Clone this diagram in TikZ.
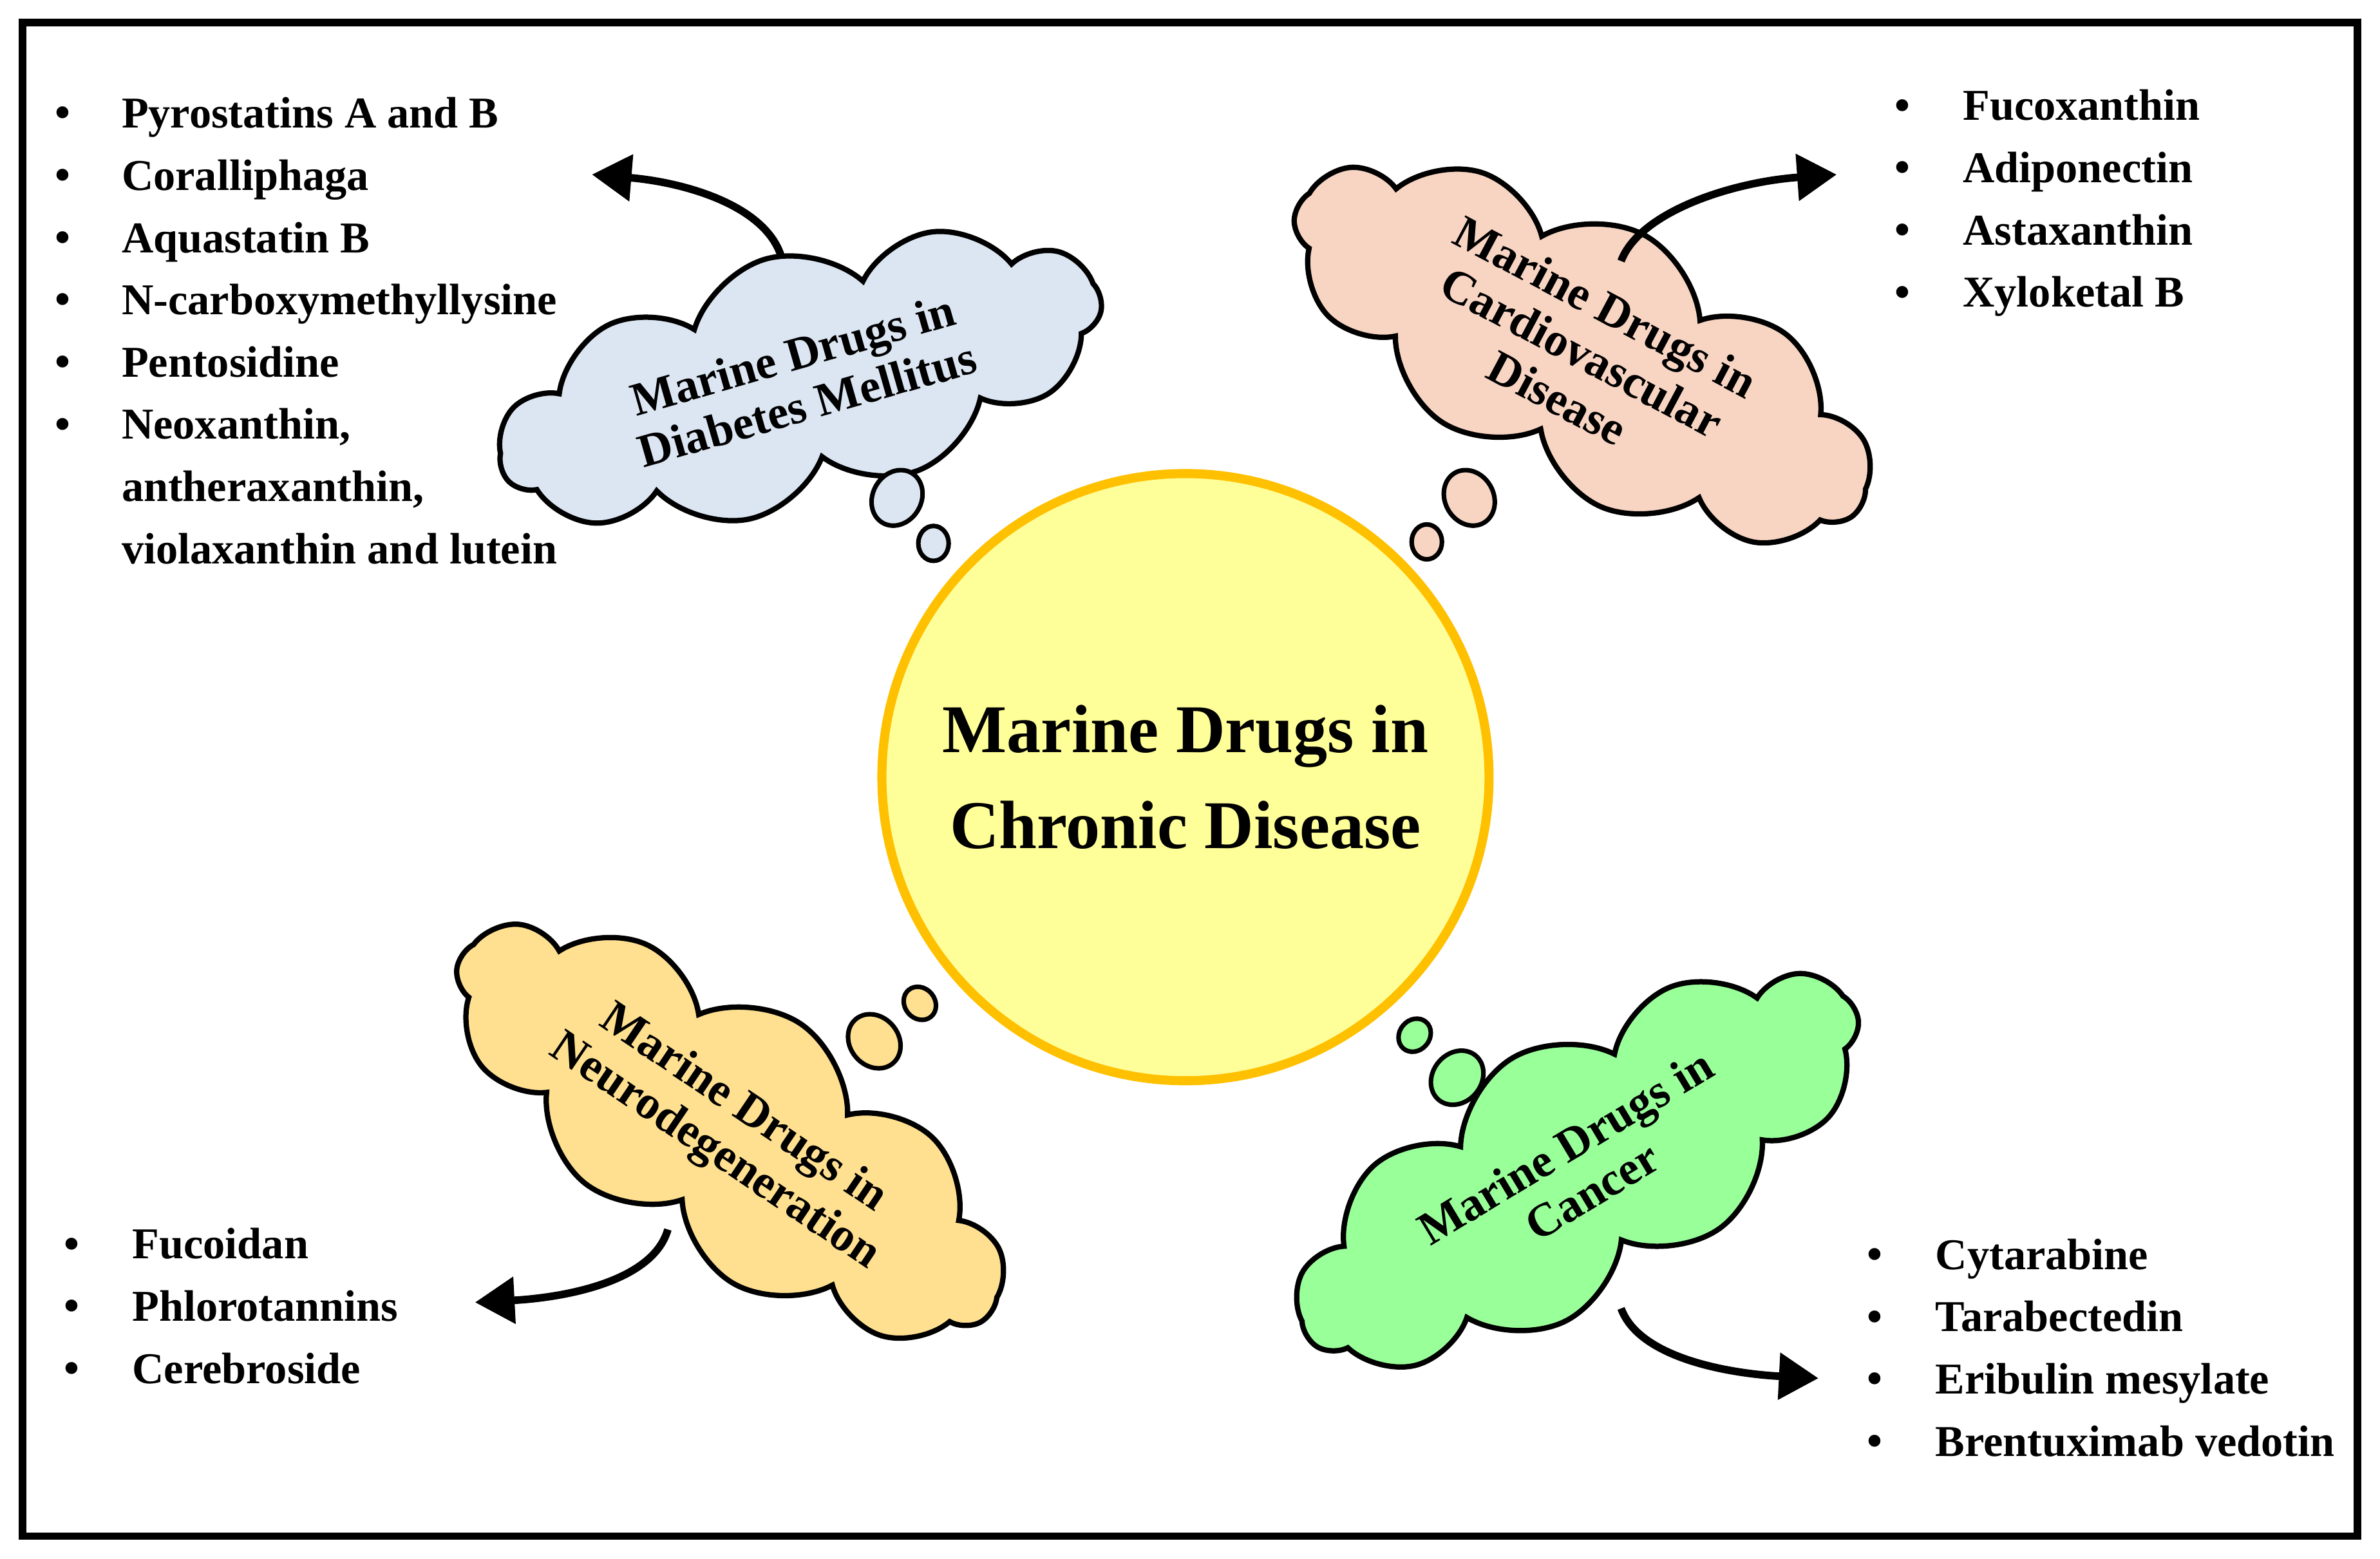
\documentclass[tikz,border=0pt]{standalone}
\usepackage{fontspec}
\setmainfont{Liberation Serif}
\usetikzlibrary{shapes.symbols,shapes.geometric,arrows.meta}
\begin{document}
\begin{tikzpicture}[x=1pt,y=-1pt,
  cl/.style={cloud,cloud puffs=11,cloud puff arc=115,cloud ignores aspect,draw=black,line width=3.5pt,align=center,font=\fontsize{31}{34}\selectfont\bfseries,inner sep=0pt},
  bub/.style={ellipse,draw=black,line width=3pt,inner sep=0pt},
  arr/.style={line width=5pt,-{Triangle[length=26pt,width=30pt]}},
  bul/.style={anchor=base west,font=\fontsize{29}{41}\selectfont\bfseries,inner sep=0pt},
  lst/.style={anchor=north west,font=\fontsize{29}{41}\selectfont\bfseries,align=left,inner sep=0pt}]
\useasboundingbox (0,0) rectangle (1568,1027);
\draw[line width=5pt] (15,15) rectangle (1553,1012);
% center
\node[circle,minimum size=400pt,fill={rgb,255:red,255;green,255;blue,153},draw={rgb,255:red,255;green,192;blue,0},line width=6pt,align=center,font=\fontsize{45}{63}\selectfont\bfseries] (c) at (781,512) {Marine Drugs in\\Chronic Disease};
% clouds
\node[cl,fill={rgb,255:red,220;green,230;blue,242},minimum width=410pt,minimum height=165pt,rotate=16] (d) at (527,250) {Marine Drugs in\\Diabetes Mellitus};
\node[cl,fill={rgb,255:red,248;green,213;blue,195},minimum width=420pt,minimum height=175pt,rotate=-28] (cv) at (1042,232) {Marine Drugs in\\Cardiovascular\\Disease};
\node[cl,fill={rgb,255:red,255;green,224;blue,145},minimum width=420pt,minimum height=170pt,rotate=-34] (n) at (480,745) {Marine Drugs in\\Neurodegeneration};
\node[cl,fill={rgb,255:red,153;green,255;blue,153},minimum width=420pt,minimum height=170pt,rotate=31] (k) at (1040,770) {Marine Drugs in\\Cancer};
% bubbles
\node[bub,fill={rgb,255:red,220;green,230;blue,242},minimum width=32pt,minimum height=38pt,rotate=-30] (d1) at (591,328) {};
\node[bub,fill={rgb,255:red,220;green,230;blue,242},minimum width=20pt,minimum height=23pt] (d2) at (615,358) {};
\node[bub,fill={rgb,255:red,248;green,213;blue,195},minimum width=32pt,minimum height=38pt,rotate=30] (c1) at (968,328) {};
\node[bub,fill={rgb,255:red,248;green,213;blue,195},minimum width=20pt,minimum height=23pt] (c2) at (940,357) {};
\node[bub,fill={rgb,255:red,255;green,224;blue,145},minimum width=32pt,minimum height=38pt,rotate=40] (n1) at (576,686) {};
\node[bub,fill={rgb,255:red,255;green,224;blue,145},minimum width=20pt,minimum height=23pt,rotate=40] (n2) at (606,661) {};
\node[bub,fill={rgb,255:red,153;green,255;blue,153},minimum width=20pt,minimum height=23pt,rotate=-40] (k1) at (932,682) {};
\node[bub,fill={rgb,255:red,153;green,255;blue,153},minimum width=32pt,minimum height=38pt,rotate=-40] (k2) at (960,710) {};
% arrows
\coordinate (da) at (390,115); \coordinate (ds) at (515,170);
\draw[arr] (ds) .. controls (505,135) and (450,120) .. (da);
\coordinate (ca) at (1210,115); \coordinate (cs) at (1068,172);
\draw[arr] (cs) .. controls (1080,140) and (1140,120) .. (ca);
\coordinate (na) at (313,858); \coordinate (ns) at (440,810);
\draw[arr] (ns) .. controls (430,845) and (370,855) .. (na);
\coordinate (ka) at (1198,908); \coordinate (ks) at (1068,862);
\draw[arr] (ks) .. controls (1080,895) and (1140,905) .. (ka);
% lists
\foreach \i in {0,...,5} \node[bul] (l\i) at (36,{84+41*\i}) {\textbullet};
\node[lst] (L1) at (80,64) {Pyrostatins A and B\\Coralliphaga\\Aquastatin B\\N-carboxymethyllysine\\Pentosidine\\Neoxanthin,\\antheraxanthin,\\violaxanthin and lutein};
\foreach \i in {0,...,3} \node[bul] (r\i) at (1248,{79+41*\i}) {\textbullet};
\node[lst] (L2) at (1293,59) {Fucoxanthin\\Adiponectin\\Astaxanthin\\Xyloketal B};
\foreach \i in {0,...,2} \node[bul] (b\i) at (42,{829+41*\i}) {\textbullet};
\node[lst] (L3) at (87,809) {Fucoidan\\Phlorotannins\\Cerebroside};
\foreach \i in {0,...,3} \node[bul] (e\i) at (1230,{836+41*\i}) {\textbullet};
\node[lst] (L4) at (1275,816) {Cytarabine\\Tarabectedin\\Eribulin mesylate\\Brentuximab vedotin};
\end{tikzpicture}
\end{document}
